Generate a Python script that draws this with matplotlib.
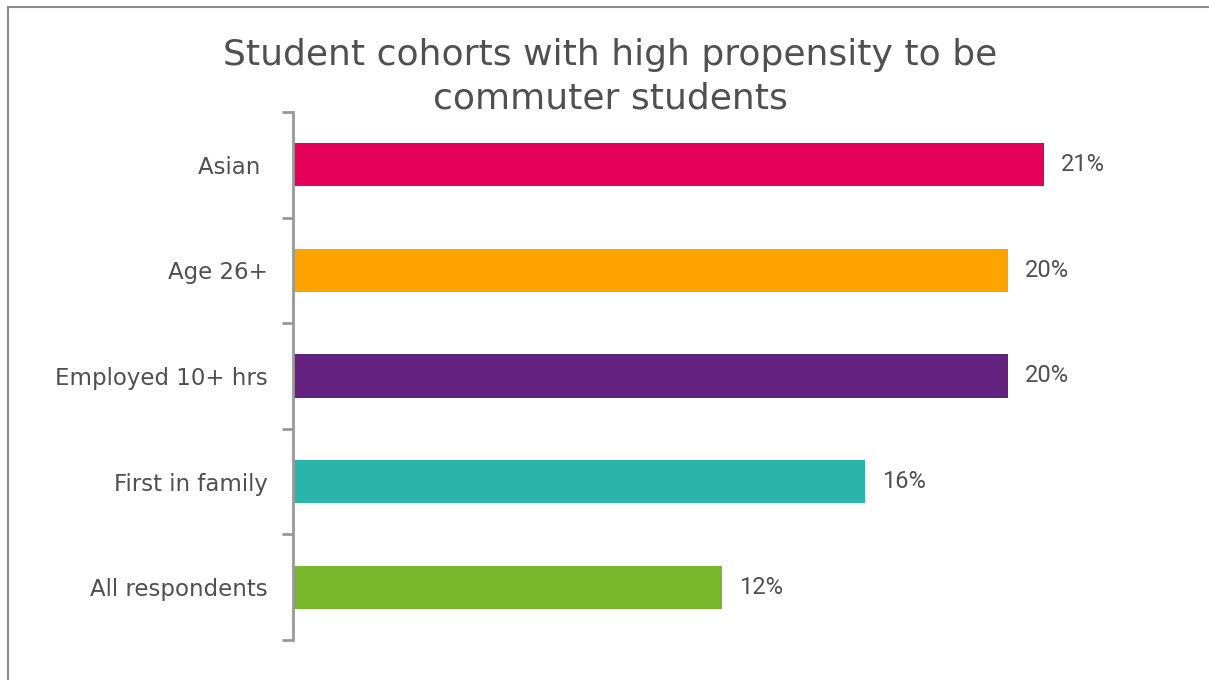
import numpy as np
import matplotlib.pyplot as plt

cohorts = ['Asian ', 'Age 26+', 'Employed 10+ hrs', 'First in family', 'All respondents']
shares = [21, 20, 20, 16, 12]  # percent
colours = ['#E5005A', '#FFA300', '#62227E', '#2BB4AA', '#78B72B']

txt = '#505050'
grey = '#999999'

fig = plt.figure(figsize=(12.09, 6.8), dpi=100)
ax = fig.add_axes([293/1209, 1-640/680, (24*35.76)/1209, (640-112)/680])

y = np.arange(len(cohorts))
ax.barh(y, shares, height=0.41, color=colours)
ax.set_ylim(len(cohorts)-0.5, -0.5)
ax.set_xlim(0, 24)

for yi, v in zip(y, shares):
    ax.text(v + 0.47, yi, '%d%%' % v, va='center', ha='left', fontsize=17,
            family='Roboto', color=txt)

# category boundaries get the tick marks, names sit in between
ax.set_yticks(np.arange(-0.5, len(cohorts)), minor=False)
ax.set_yticklabels([])
ax.set_yticks(y, minor=True)
ax.set_yticklabels(cohorts, minor=True, fontsize=16.5, color=txt)
ax.tick_params(axis='y', which='major', length=8, width=2, color=grey)
ax.tick_params(axis='y', which='minor', length=0, pad=18)
ax.set_xticks([])

for s in ['top', 'right', 'bottom']:
    ax.spines[s].set_visible(False)
ax.spines['left'].set_color(grey)
ax.spines['left'].set_linewidth(2)

fig.text(0.505, 0.887, 'Student cohorts with high propensity to be\ncommuter students',
         ha='center', va='center', fontsize=26, color=txt, linespacing=1.38)

# frame along top and left edges
fig.add_artist(plt.Line2D([8/1209, 1], [1-7/680, 1-7/680], color='#8c8c8c', lw=1.5))
fig.add_artist(plt.Line2D([8/1209, 8/1209], [0, 1-7/680], color='#8c8c8c', lw=1.5))

fig.savefig('out.png', dpi=100)
